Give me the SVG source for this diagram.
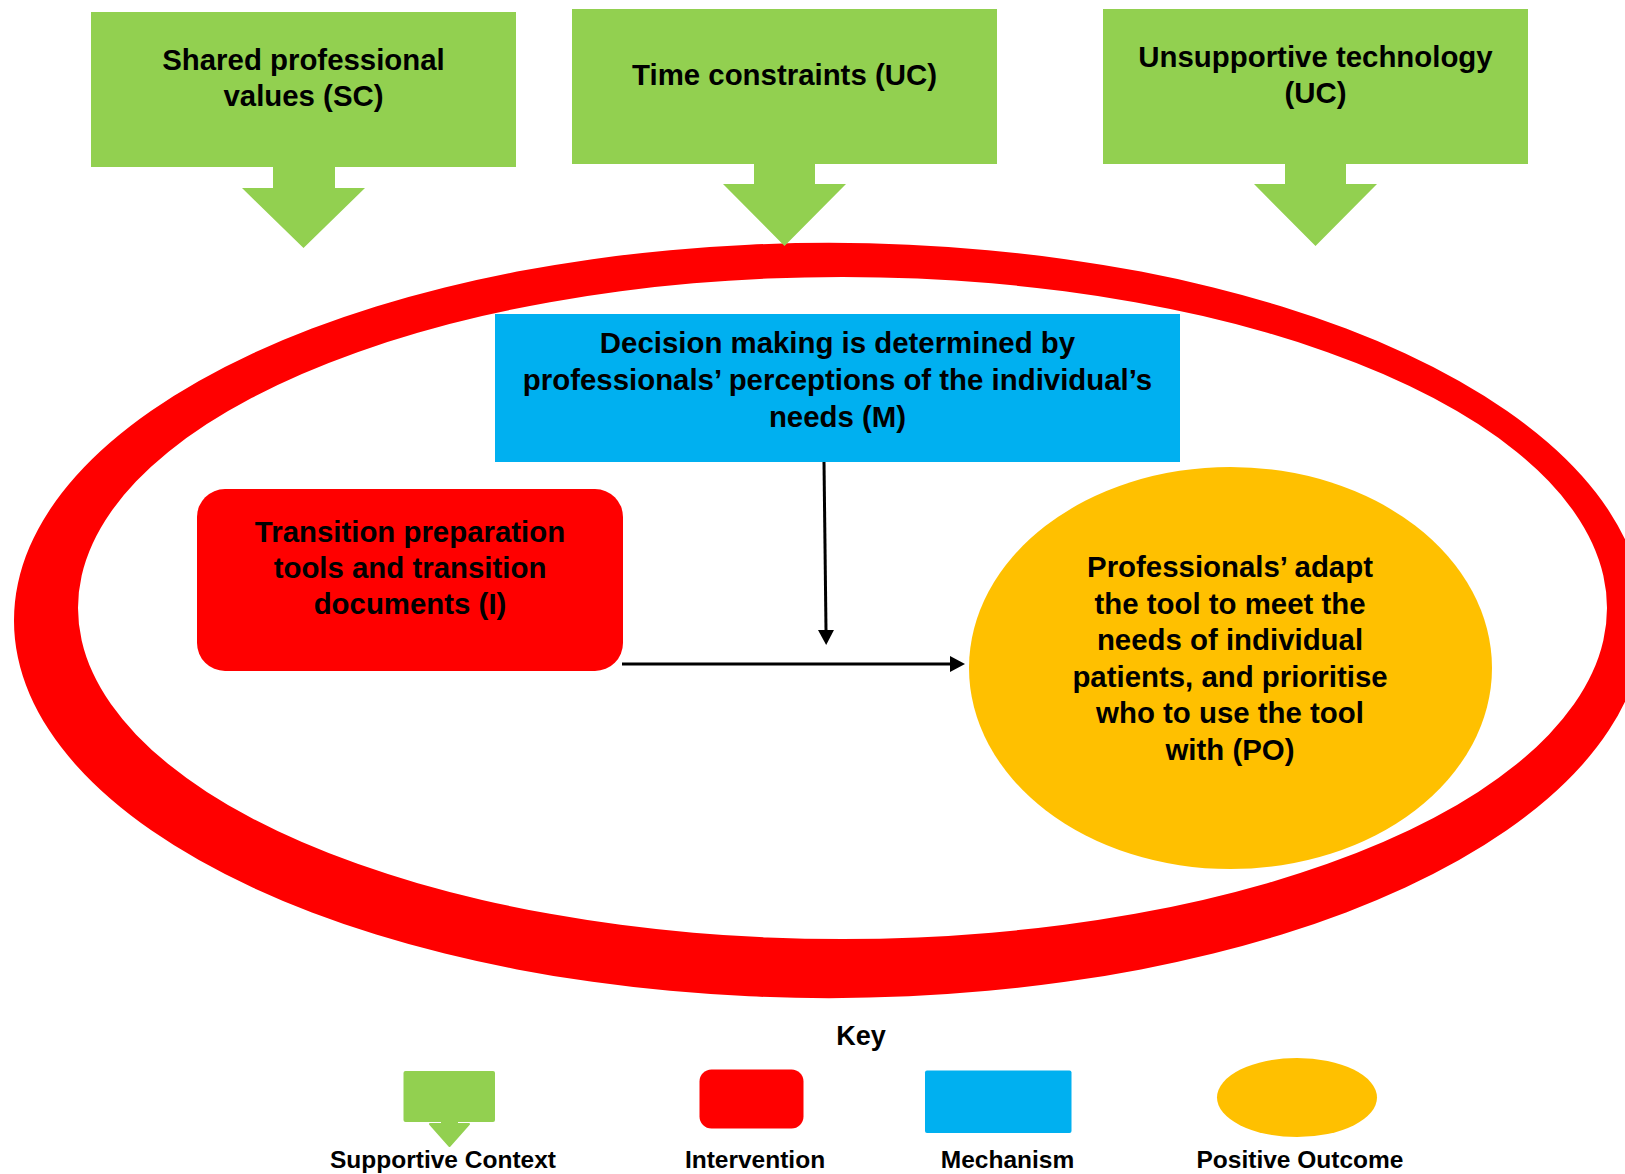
<svg xmlns="http://www.w3.org/2000/svg" width="1625" height="1174" viewBox="0 0 1625 1174">
  <style>
    .lbl { font-family: "Liberation Sans", Arial, sans-serif; font-weight: bold; fill: #000; text-anchor: middle; }
    .big { font-size: 29.4px; }
    .key { font-size: 24.5px; }
    .ctx { fill: #92D050; }
    .int { fill: #FF0000; }
    .mech { fill: #00B0F0; }
    .out { fill: #FFC000; }
    .conn { stroke: #000; stroke-width: 3; fill: none; }
  </style>
  <defs>
    <marker id="arrow" viewBox="0 0 15 16" markerWidth="15" markerHeight="16" refX="0" refY="8" orient="auto" markerUnits="userSpaceOnUse">
      <path d="M0,0 L15,8 L0,16 Z" fill="#000"/>
    </marker>
  </defs>

  <rect width="1625" height="1174" fill="#fff"/>

  <!-- programme boundary ring -->
  <g id="ring">
    <path class="int" fill-rule="evenodd" d="M14,620.5 a815,377.5 0 1,0 1630,0 a815,377.5 0 1,0 -1630,0 Z M78,608 a764.5,331 0 1,0 1529,0 a764.5,331 0 1,0 -1529,0 Z"/>
  </g>

  <!-- context arrows -->
  <g id="ctx-shared-values">
    <path class="ctx" d="M91,12 H516 V167 H335 V188 H365 L303.5,248 L242,188 H273 V167 H91 Z"/>
    <text class="lbl big" x="303.5" y="70">Shared professional</text>
    <text class="lbl big" x="303.5" y="106">values (SC)</text>
  </g>
  <g id="ctx-time">
    <path class="ctx" d="M572,9 H997 V164 H815 V184 H846 L784.5,246 L723,184 H754 V164 H572 Z"/>
    <text class="lbl big" x="784.5" y="85">Time constraints (UC)</text>
  </g>
  <g id="ctx-technology">
    <path class="ctx" d="M1103,9 H1528 V164 H1346 V184 H1377 L1315.5,246 L1254,184 H1285 V164 H1103 Z"/>
    <text class="lbl big" x="1315.5" y="67">Unsupportive technology</text>
    <text class="lbl big" x="1315.5" y="103">(UC)</text>
  </g>

  <!-- mechanism -->
  <g id="mechanism">
    <rect class="mech" x="495" y="314" width="685" height="148"/>
    <text class="lbl big" x="837.5" y="353">Decision making is determined by</text>
    <text class="lbl big" x="837.5" y="390">professionals’ perceptions of the individual’s</text>
    <text class="lbl big" x="837.5" y="427">needs (M)</text>
  </g>

  <!-- intervention -->
  <g id="intervention">
    <rect class="int" x="197" y="489" width="426" height="182" rx="28" ry="28"/>
    <text class="lbl big" x="410" y="542">Transition preparation</text>
    <text class="lbl big" x="410" y="578">tools and transition</text>
    <text class="lbl big" x="410" y="614">documents (I)</text>
  </g>

  <!-- outcome -->
  <g id="outcome">
    <ellipse class="out" cx="1230.5" cy="668" rx="261.5" ry="201"/>
    <text class="lbl big" x="1230" y="577">Professionals’ adapt</text>
    <text class="lbl big" x="1230" y="613.5">the tool to meet the</text>
    <text class="lbl big" x="1230" y="650">needs of individual</text>
    <text class="lbl big" x="1230" y="686.5">patients, and prioritise</text>
    <text class="lbl big" x="1230" y="723">who to use the tool</text>
    <text class="lbl big" x="1230" y="759.5">with (PO)</text>
  </g>

  <!-- connectors -->
  <g id="connectors">
    <line class="conn" x1="824" y1="462" x2="826" y2="630" marker-end="url(#arrow)"/>
    <line class="conn" x1="622" y1="664" x2="950" y2="664" marker-end="url(#arrow)"/>
  </g>

  <!-- key -->
  <g id="key">
    <text class="lbl" font-size="27" x="861" y="1045">Key</text>
    <g id="key-context">
      <rect class="ctx" x="403.5" y="1071" width="91.5" height="51" rx="2"/>
      <rect class="ctx" x="441" y="1119" width="17" height="6"/>
      <path class="ctx" d="M430,1124 H469 L449.5,1146 Z" stroke="#92D050" stroke-width="2" stroke-linejoin="round"/>
      <text class="lbl key" x="443" y="1168">Supportive Context</text>
    </g>
    <g id="key-intervention">
      <rect class="int" x="699.5" y="1069.5" width="104" height="59" rx="12" ry="12"/>
      <text class="lbl key" x="755" y="1168">Intervention</text>
    </g>
    <g id="key-mechanism">
      <rect class="mech" x="925" y="1070.5" width="146.5" height="62.5" rx="2"/>
      <text class="lbl key" x="1007.5" y="1168">Mechanism</text>
    </g>
    <g id="key-outcome">
      <ellipse class="out" cx="1297" cy="1097.5" rx="80" ry="39.5"/>
      <text class="lbl key" x="1300" y="1168">Positive Outcome</text>
    </g>
  </g>
</svg>
